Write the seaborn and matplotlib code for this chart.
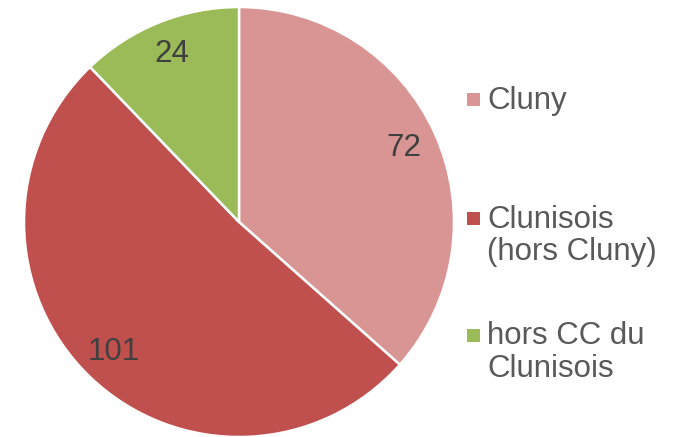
import matplotlib
matplotlib.use("Agg")
import matplotlib.pyplot as plt
import matplotlib.patches as mpatches
import seaborn as sns

categories = ["Cluny", "Clunisois\n(hors Cluny)", "hors CC du\nClunisois"]
values = [72, 101, 24]
colors = ["#D99594", "#C0504D", "#9BBB59"]

sns.set_theme(style="white")
plt.rcParams["font.family"] = ["Liberation Sans", "DejaVu Sans"]

fig = plt.figure(figsize=(6.79, 4.37), dpi=100)
ax = fig.add_axes([24 / 679, 0, 430 / 679, 430 / 437])
palette = sns.color_palette(colors)

wedges, texts = ax.pie(values, labels=[str(v) for v in values], colors=palette,
                       startangle=90, counterclock=False, labeldistance=0.84,
                       wedgeprops=dict(edgecolor="white", linewidth=1.8),
                       textprops=dict(fontsize=22.5, color="#404040"))
for t in texts:
    t.set_horizontalalignment("center")
    t.set_verticalalignment("center")
ax.set_xlim(-1, 1)
ax.set_ylim(-1, 1)
ax.set_aspect("equal")
ax.axis("off")

# legend drawn by hand so the first text line lines up with the marker
legend_mid = [99.5, 218.5, 335]
for label, col, y in zip(categories, palette, legend_mid):
    fig.patches.append(mpatches.Rectangle((467 / 679, 1 - (y + 6.5) / 437), 13 / 679, 13 / 437,
                                          transform=fig.transFigure, facecolor=col,
                                          edgecolor="none"))
    fig.text(487 / 679, 1 - (y - 13.5) / 437, label, fontsize=22.5, color="#595959",
             va="top", ha="left", linespacing=1.1)

fig.savefig("out.png", dpi=100)
